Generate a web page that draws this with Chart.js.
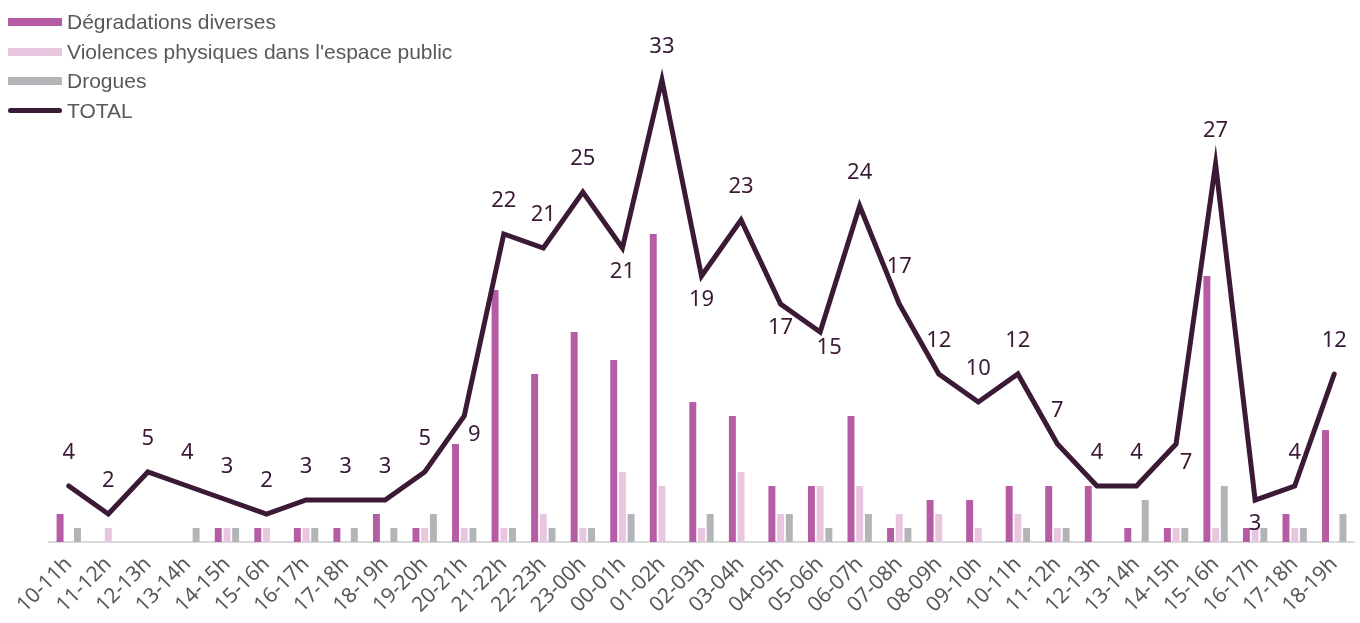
<!DOCTYPE html>
<html>
<head>
<meta charset="utf-8">
<script src="https://cdn.jsdelivr.net/npm/chart.js@4/dist/chart.umd.min.js"></script>
<style>
	html, body { margin: 0; padding: 0; background: #fff; }
	#wrap { position: relative; width: 1360px; height: 623px; }
	#legend { position: absolute; left: 8px; top: 7px; font-family: "Liberation Sans", Arial, sans-serif; font-size: 21px; color: #595959; }
	#legend div { height: 29.7px; display: flex; align-items: center; }
	#legend span.sw { display: inline-block; width: 54px; height: 8px; margin-right: 5px; }
	#legend span.ln { display: inline-block; width: 54px; height: 5px; border-radius: 3px; margin-right: 5px; background: #3b1a36; }
</style>
</head>
<body>
<div id="wrap">
	<canvas id="chart" width="1360" height="623"></canvas>
	<div id="legend"></div>
</div>
<script>
const hours = ['10-11h', '11-12h', '12-13h', '13-14h', '14-15h', '15-16h', '16-17h', '17-18h', '18-19h', '19-20h',
	'20-21h', '21-22h', '22-23h', '23-00h', '00-01h', '01-02h', '02-03h', '03-04h', '04-05h', '05-06h',
	'06-07h', '07-08h', '08-09h', '09-10h', '10-11h', '11-12h', '12-13h', '13-14h', '14-15h', '15-16h',
	'16-17h', '17-18h', '18-19h'];

const degradations = [2, 0, 0, 0, 1, 1, 1, 1, 2, 1, 7, 18, 12, 15, 13, 22, 10, 9, 4, 4, 9, 1, 3, 3, 4, 4, 4, 1, 1, 19, 1, 2, 8];
const violences = [0, 1, 0, 0, 1, 1, 1, 0, 0, 1, 1, 1, 2, 1, 5, 4, 1, 5, 2, 4, 4, 2, 2, 1, 2, 1, 0, 0, 1, 1, 1, 1, 0];
const drogues = [1, 0, 0, 1, 1, 0, 1, 1, 1, 2, 1, 1, 1, 1, 2, 0, 2, 0, 2, 1, 2, 1, 0, 0, 1, 1, 0, 3, 1, 4, 1, 1, 2];
const total = [4, 2, 5, 4, 3, 2, 3, 3, 3, 5, 9, 22, 21, 25, 21, 33, 19, 23, 17, 15, 24, 17, 12, 10, 12, 7, 4, 4, 7, 27, 3, 4, 12];

// where each TOTAL label sits relative to its point
const labelPos = ['a', 'a', 'a', 'a', 'a', 'a', 'a', 'a', 'a', 'a', 'r', 'a', 'a', 'a', 'b', 'a', 'b', 'a', 'b', 'br',
	'a', 'ar', 'a', 'a', 'a', 'a', 'a', 'a', 'r', 'a', 'b', 'a', 'a'];

const colD = '#b55ca5';
const colV = '#e9c6df';
const colG = '#b3b4b7';
const colT = '#3b1a36';

// legend (html, sits over the plot like in the original)
const legendItems = [
	{ label: 'Dégradations diverses', color: colD },
	{ label: 'Violences physiques dans l\'espace public', color: colV },
	{ label: 'Drogues', color: colG },
	{ label: 'TOTAL', line: true }
];
const legendEl = document.getElementById('legend');
legendItems.forEach(item => {
	const row = document.createElement('div');
	const sw = document.createElement('span');
	if (item.line) {
		sw.className = 'ln';
	} else {
		sw.className = 'sw';
		sw.style.background = item.color;
	}
	row.appendChild(sw);
	row.appendChild(document.createTextNode(item.label));
	legendEl.appendChild(row);
});

// draw the value labels of the TOTAL line
const totalLabels = {
	id: 'totalLabels',
	afterDatasetsDraw(chart) {
		const meta = chart.getDatasetMeta(3);
		const ctx = chart.ctx;
		ctx.save();
		ctx.font = '22px "Noto Sans", sans-serif';
		ctx.fillStyle = colT;
		ctx.textAlign = 'center';
		ctx.textBaseline = 'middle';
		meta.data.forEach((pt, i) => {
			let x = pt.x, y = pt.y;
			const p = labelPos[i];
			if (p === 'a') { y -= 33; }
			else if (p === 'b') { y += 24; }
			else if (p === 'r') { x += 10; y += 19; }
			else if (p === 'br') { x += 9; y += 16; }
			else if (p === 'ar') { y -= 37; }
			ctx.fillText(String(total[i]), x, y);
		});
		ctx.restore();
	}
};

const barOpts = { categoryPercentage: 0.66, barPercentage: 0.8 };

const config = {
	type: 'bar',
	data: {
		labels: hours,
		datasets: [
			{ label: 'Dégradations diverses', data: degradations, backgroundColor: colD, ...barOpts, order: 2 },
			{ label: 'Violences physiques dans l\'espace public', data: violences, backgroundColor: colV, ...barOpts, order: 2 },
			{ label: 'Drogues', data: drogues, backgroundColor: colG, ...barOpts, order: 2 },
			{ type: 'line', label: 'TOTAL', data: total, borderColor: colT, borderWidth: 5, pointRadius: 0, tension: 0, order: 1, borderJoinStyle: 'miter', borderCapStyle: 'round' }
		]
	},
	options: {
		responsive: false,
		animation: false,
		layout: { padding: { left: 49, right: 6, top: 0, bottom: 0 } },
		plugins: {
			legend: { display: false },
			tooltip: { enabled: false }
		},
		scales: {
			x: {
				grid: { display: false },
				border: { display: true, color: '#d9d9d9', width: 2 },
				ticks: {
					color: '#595959',
					font: { family: '"Noto Sans", sans-serif', size: 21 },
					minRotation: 45,
					maxRotation: 45,
					padding: 2,
					autoSkip: false
				},
				afterFit(scale) { scale.height = 81; }
			},
			y: {
				display: false,
				min: 0,
				max: 542 / 14
			}
		}
	},
	plugins: [totalLabels]
};

const myChart = new Chart(document.getElementById('chart'), config);
</script>
</body>
</html>
